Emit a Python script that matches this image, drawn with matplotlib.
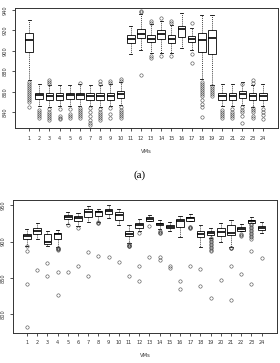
import matplotlib
matplotlib.use("Agg")
import matplotlib.pyplot as plt

vms = [str(i) for i in range(1, 25)]

# panel (a): box statistics
a_med = [911, 857, 856, 856, 857, 857, 856, 856, 856, 858,
         912, 917, 912, 917, 912, 921, 912, 911, 913, 856, 856, 858, 856, 856]
a_q1 = [899, 853, 852, 852, 853, 853, 852, 852, 852, 854,
        908, 913, 909, 912, 908, 914, 909, 899, 897, 852, 852, 854, 852, 852]
a_q3 = [918, 859, 859, 859, 859, 859, 859, 859, 859, 861,
        916, 921, 916, 920, 916, 924, 915, 918, 920, 859, 859, 861, 859, 859]
a_lo = [872, 846, 845, 846, 846, 846, 846, 845, 846, 847,
        897, 901, 898, 898, 898, 903, 901, 873, 867, 846, 846, 847, 845, 846]
a_hi = [930, 868, 867, 867, 867, 868, 867, 867, 868, 870,
        924, 936, 926, 929, 925, 937, 922, 935, 935, 868, 868, 870, 867, 868]
a_fl = [[870, 868, 866, 864, 862, 860, 858, 856, 854, 852, 850, 845],
        [842, 840, 838, 836, 834],
        [872, 870, 868, 843, 840, 838, 836, 834, 832],
        [843, 836, 834, 833],
        [843, 838, 836, 834],
        [869, 844, 842, 840, 838, 836, 834],
        [844, 840, 836, 832, 830, 828],
        [871, 868, 843, 840, 838, 836, 834, 832],
        [871, 869, 844, 838, 834],
        [873, 871, 845, 842, 840, 838, 836, 834],
        [],
        [939, 938, 876],
        [929, 927, 895, 893],
        [932, 895],
        [929, 927, 895],
        [],
        [927, 897, 888],
        [870, 868, 866, 864, 862, 860, 858, 856, 852, 848, 845, 835],
        [866, 864, 862, 860, 858, 856],
        [842, 840, 838, 836, 834],
        [843, 840, 838, 836, 834],
        [868, 845, 842, 840, 836, 830],
        [872, 869, 844, 842, 840, 836, 834],
        [843, 840, 837, 833]]

# panel (b)
b_med = [907, 914, 900, 911, 934, 932, 940, 940, 942, 936,
         910, 922, 931, 924, 920, 928, 932, 911, 912, 913, 912, 917, 928, 919]
b_q1 = [904, 910, 897, 903, 931, 928, 934, 935, 938, 930,
        908, 919, 928, 922, 918, 920, 928, 906, 909, 907, 909, 915, 926, 916]
b_q3 = [911, 918, 910, 912, 937, 935, 944, 942, 945, 940,
        915, 926, 934, 926, 923, 931, 934, 915, 915, 919, 922, 920, 930, 921]
b_lo = [894, 903, 894, 892, 924, 921, 927, 927, 932, 922,
        898, 914, 928, 917, 915, 906, 928, 892, 905, 899, 892, 914, 925, 912]
b_hi = [917, 925, 914, 916, 940, 939, 949, 944, 950, 944,
        923, 931, 937, 930, 927, 935, 938, 922, 918, 925, 929, 924, 933, 927]
b_fl = [[894, 887, 842, 782],
        [861],
        [870, 853],
        [891, 890.5, 890, 889.5, 889, 858, 826],
        [922, 858],
        [919, 867],
        [886, 853],
        [926.5, 926, 925.5, 880],
        [879],
        [872],
        [896, 895, 894.5, 894, 893.5, 853],
        [912, 866, 846],
        [921, 879],
        [914, 913, 912, 911.5, 879, 875],
        [866, 863],
        [846, 835],
        [920, 919.5, 919, 918.5, 867],
        [862, 839],
        [905, 903, 901, 899, 897, 895, 893, 891, 889, 887, 822],
        [847],
        [891.5, 891, 890.5, 866, 820],
        [911, 909, 907, 856],
        [924, 922, 920, 918, 916, 914, 912, 910, 908, 906, 904, 887, 841],
        [877]]


def stats(med, q1, q3, lo, hi, fl):
    return [dict(med=m, q1=a, q3=b, whislo=l, whishi=h, fliers=f, label=v)
            for m, a, b, l, h, f, v in zip(med, q1, q3, lo, hi, fl, vms)]


def draw(ax, st):
    ax.bxp(st, positions=range(1, 25), widths=0.75, patch_artist=True,
           boxprops=dict(facecolor="white", edgecolor="black", linewidth=0.6),
           medianprops=dict(color="black", linewidth=1.2),
           whiskerprops=dict(color="black", linewidth=0.5, linestyle=(0, (1.5, 1.5))),
           capprops=dict(color="black", linewidth=0.6),
           flierprops=dict(marker="o", markersize=2.4, markerfacecolor="none",
                           markeredgecolor="#444444", markeredgewidth=0.4),
           capwidths=0.3)
    ax.set_xlim(-0.38, 25.5)
    ax.set_xticks(range(1, 25))
    ax.set_xticklabels(vms)
    ax.tick_params(axis="both", labelsize=3.6, length=2.5, width=0.6, pad=3,
                   colors="#333333")
    for lab in ax.get_yticklabels():
        lab.set_rotation(90)
        lab.set_va("center")
    for s in ax.spines.values():
        s.set_linewidth(0.7)
        s.set_color("#333333")
    ax.set_xlabel("VMs", fontsize=3.8, color="#333333", labelpad=6)


fig = plt.figure(figsize=(2.8, 3.63), dpi=100)

ax1 = fig.add_axes([0.054, 0.647, 0.939, 0.331])
draw(ax1, stats(a_med, a_q1, a_q3, a_lo, a_hi, a_fl))
ax1.set_ylim(824.5, 942)
ax1.set_yticks([840, 860, 880, 900, 920, 940])

ax2 = fig.add_axes([0.046, 0.084, 0.943, 0.365])
draw(ax2, stats(b_med, b_q1, b_q3, b_lo, b_hi, b_fl))
ax2.set_ylim(775, 957)
ax2.set_yticks([800, 850, 900, 950])

fig.text(0.5, 0.518, "(a)", ha="center", va="center", fontsize=8,
         family="Liberation Serif")

fig.savefig("out.png", dpi=100)
